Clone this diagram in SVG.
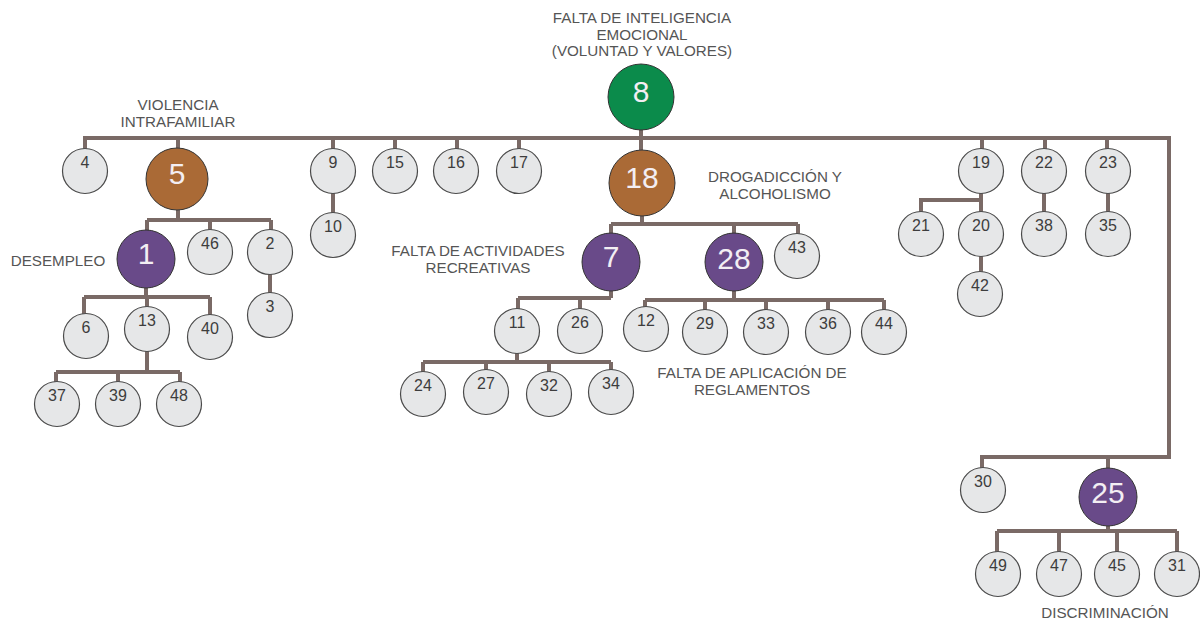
<svg xmlns="http://www.w3.org/2000/svg" width="1200" height="620" viewBox="0 0 1200 620">
<style>
.c{fill:none;stroke:#7a6a66;stroke-width:4}
.s{fill:#e6e7e8;stroke:#4a4a4a;stroke-width:1.2}
.g{fill:#0b8b4b;stroke:#333;stroke-width:1}
.b{fill:#aa6a36;stroke:#333;stroke-width:1}
.p{fill:#694a89;stroke:#333;stroke-width:1}
.st{font-family:"Liberation Sans",Arial,sans-serif;font-size:16px;fill:#3d3d3d;text-anchor:middle}
.lt{font-family:"Liberation Sans",Arial,sans-serif;font-size:30px;fill:#f3eef3;text-anchor:middle}
.lb{font-family:"Liberation Sans",Arial,sans-serif;font-size:15.2px;fill:#555;text-anchor:middle}
</style>
<rect width="1200" height="620" fill="#fff"/>
<g id="connectors">
<path class="c" d="M83,138 H1169 V457 H982 V468"/>
<path class="c" d="M1108,457 V468"/>
<path class="c" d="M85,138 V149 M178,138 V148 M333,138 V149 M395,138 V149 M457,138 V149 M519,138 V149 M641,130 V150 M982,138 V149 M1045,138 V149 M1107,138 V149"/>
<path class="c" d="M333,193 V213"/>
<path class="c" d="M981,193 V212 M981,200 H921 V212 M981,256 V272 M1044,193 V212 M1108,193 V212"/>
<path class="c" d="M178,210 V220 M147,220 H271 M147,220 V231 M210,220 V230 M271,220 V230 M270,274 V294"/>
<path class="c" d="M146,288 V297 M84,297 H210 M84,297 V314 M147,297 V307 M210,297 V315"/>
<path class="c" d="M147,351 V372 M56,372 H180 M56,372 V382 M118,372 V382 M180,372 V382"/>
<path class="c" d="M642,216 V224 M611,224 H798 M611,224 V234 M734,224 V234 M798,224 V234"/>
<path class="c" d="M611,291 V298 M518,298 H611 M518,298 V309 M580,298 V309"/>
<path class="c" d="M517,353 V362 M423,362 H611 M423,362 V372 M486,362 V370 M549,362 V372 M611,362 V370"/>
<path class="c" d="M734,291 V300 M645,300 H884 M645,300 V307 M705,300 V310 M766,300 V310 M828,300 V310 M884,300 V310"/>
<path class="c" d="M1108,526 V531 M997,531 H1177 M997,531 V552 M1059,531 V552 M1117,531 V552 M1177,531 V552"/>
</g>
<g id="n8"><circle class="g" cx="641" cy="97" r="33"/><text class="lt" x="641" y="102">8</text></g>
<g id="n18"><circle class="b" cx="642" cy="183" r="33"/><text class="lt" x="642" y="188">18</text></g>
<g id="n5"><circle class="b" cx="177" cy="179" r="31"/><text class="lt" x="177" y="184">5</text></g>
<g id="n1"><circle class="p" cx="146" cy="259" r="29"/><text class="lt" x="146" y="264">1</text></g>
<g id="n7"><circle class="p" cx="611" cy="262" r="29"/><text class="lt" x="611" y="267">7</text></g>
<g id="n28"><circle class="p" cx="734" cy="262" r="29"/><text class="lt" x="734" y="269">28</text></g>
<g id="n25"><circle class="p" cx="1108" cy="497" r="29"/><text class="lt" x="1108" y="503">25</text></g>
<g id="n4"><circle class="s" cx="85" cy="171" r="22.5"/><text class="st" x="85" y="168">4</text></g>
<g id="n9"><circle class="s" cx="333" cy="171" r="22.5"/><text class="st" x="333" y="168">9</text></g>
<g id="n15"><circle class="s" cx="395" cy="171" r="22.5"/><text class="st" x="395" y="168">15</text></g>
<g id="n16"><circle class="s" cx="456" cy="171" r="22.5"/><text class="st" x="456" y="168">16</text></g>
<g id="n17"><circle class="s" cx="519" cy="171" r="22.5"/><text class="st" x="519" y="168">17</text></g>
<g id="n10"><circle class="s" cx="333" cy="235" r="22.5"/><text class="st" x="333" y="232">10</text></g>
<g id="n19"><circle class="s" cx="981" cy="171" r="22.5"/><text class="st" x="981" y="168">19</text></g>
<g id="n22"><circle class="s" cx="1044" cy="171" r="22.5"/><text class="st" x="1044" y="168">22</text></g>
<g id="n23"><circle class="s" cx="1108" cy="171" r="22.5"/><text class="st" x="1108" y="168">23</text></g>
<g id="n21"><circle class="s" cx="921" cy="234" r="22.5"/><text class="st" x="921" y="231">21</text></g>
<g id="n20"><circle class="s" cx="981" cy="234" r="22.5"/><text class="st" x="981" y="231">20</text></g>
<g id="n42"><circle class="s" cx="980" cy="294" r="22.5"/><text class="st" x="980" y="291">42</text></g>
<g id="n38"><circle class="s" cx="1044" cy="234" r="22.5"/><text class="st" x="1044" y="231">38</text></g>
<g id="n35"><circle class="s" cx="1108" cy="234" r="22.5"/><text class="st" x="1108" y="231">35</text></g>
<g id="n46"><circle class="s" cx="210" cy="252" r="22.5"/><text class="st" x="210" y="249">46</text></g>
<g id="n2"><circle class="s" cx="270" cy="252" r="22.5"/><text class="st" x="270" y="249">2</text></g>
<g id="n3"><circle class="s" cx="270" cy="315" r="22.5"/><text class="st" x="270" y="312">3</text></g>
<g id="n6"><circle class="s" cx="86" cy="336" r="22.5"/><text class="st" x="86" y="333">6</text></g>
<g id="n13"><circle class="s" cx="147" cy="329" r="22.5"/><text class="st" x="147" y="326">13</text></g>
<g id="n40"><circle class="s" cx="210" cy="337" r="22.5"/><text class="st" x="210" y="334">40</text></g>
<g id="n37"><circle class="s" cx="57" cy="404" r="22.5"/><text class="st" x="57" y="401">37</text></g>
<g id="n39"><circle class="s" cx="118" cy="404" r="22.5"/><text class="st" x="118" y="401">39</text></g>
<g id="n48"><circle class="s" cx="179" cy="404" r="22.5"/><text class="st" x="179" y="401">48</text></g>
<g id="n43"><circle class="s" cx="797" cy="256" r="22.5"/><text class="st" x="797" y="253">43</text></g>
<g id="n11"><circle class="s" cx="517" cy="331" r="22.5"/><text class="st" x="517" y="328">11</text></g>
<g id="n26"><circle class="s" cx="580" cy="331" r="22.5"/><text class="st" x="580" y="328">26</text></g>
<g id="n24"><circle class="s" cx="423" cy="394" r="22.5"/><text class="st" x="423" y="391">24</text></g>
<g id="n27"><circle class="s" cx="486" cy="392" r="22.5"/><text class="st" x="486" y="389">27</text></g>
<g id="n32"><circle class="s" cx="549" cy="394" r="22.5"/><text class="st" x="549" y="391">32</text></g>
<g id="n34"><circle class="s" cx="611" cy="392" r="22.5"/><text class="st" x="611" y="389">34</text></g>
<g id="n12"><circle class="s" cx="646" cy="329" r="22.5"/><text class="st" x="646" y="326">12</text></g>
<g id="n29"><circle class="s" cx="705" cy="332" r="22.5"/><text class="st" x="705" y="329">29</text></g>
<g id="n33"><circle class="s" cx="766" cy="332" r="22.5"/><text class="st" x="766" y="329">33</text></g>
<g id="n36"><circle class="s" cx="828" cy="332" r="22.5"/><text class="st" x="828" y="329">36</text></g>
<g id="n44"><circle class="s" cx="884" cy="332" r="22.5"/><text class="st" x="884" y="329">44</text></g>
<g id="n30"><circle class="s" cx="983" cy="490" r="22.5"/><text class="st" x="983" y="487">30</text></g>
<g id="n49"><circle class="s" cx="998" cy="574" r="22.5"/><text class="st" x="998" y="571">49</text></g>
<g id="n47"><circle class="s" cx="1059" cy="574" r="22.5"/><text class="st" x="1059" y="571">47</text></g>
<g id="n45"><circle class="s" cx="1117" cy="574" r="22.5"/><text class="st" x="1117" y="571">45</text></g>
<g id="n31"><circle class="s" cx="1177" cy="574" r="22.5"/><text class="st" x="1177" y="571">31</text></g>
<g id="labels">
<text class="lb" x="642" y="23">FALTA DE INTELIGENCIA</text>
<text class="lb" x="642" y="40">EMOCIONAL</text>
<text class="lb" x="642" y="56">(VOLUNTAD Y VALORES)</text>
<text class="lb" x="178" y="110">VIOLENCIA</text>
<text class="lb" x="178" y="127">INTRAFAMILIAR</text>
<text class="lb" x="775" y="182">DROGADICCIÓN Y</text>
<text class="lb" x="775" y="199">ALCOHOLISMO</text>
<text class="lb" x="58" y="266">DESEMPLEO</text>
<text class="lb" x="478" y="256">FALTA DE ACTIVIDADES</text>
<text class="lb" x="478" y="273">RECREATIVAS</text>
<text class="lb" x="752" y="378">FALTA DE APLICACIÓN DE</text>
<text class="lb" x="752" y="395">REGLAMENTOS</text>
<text class="lb" x="1105" y="618">DISCRIMINACIÓN</text>
</g>
</svg>
